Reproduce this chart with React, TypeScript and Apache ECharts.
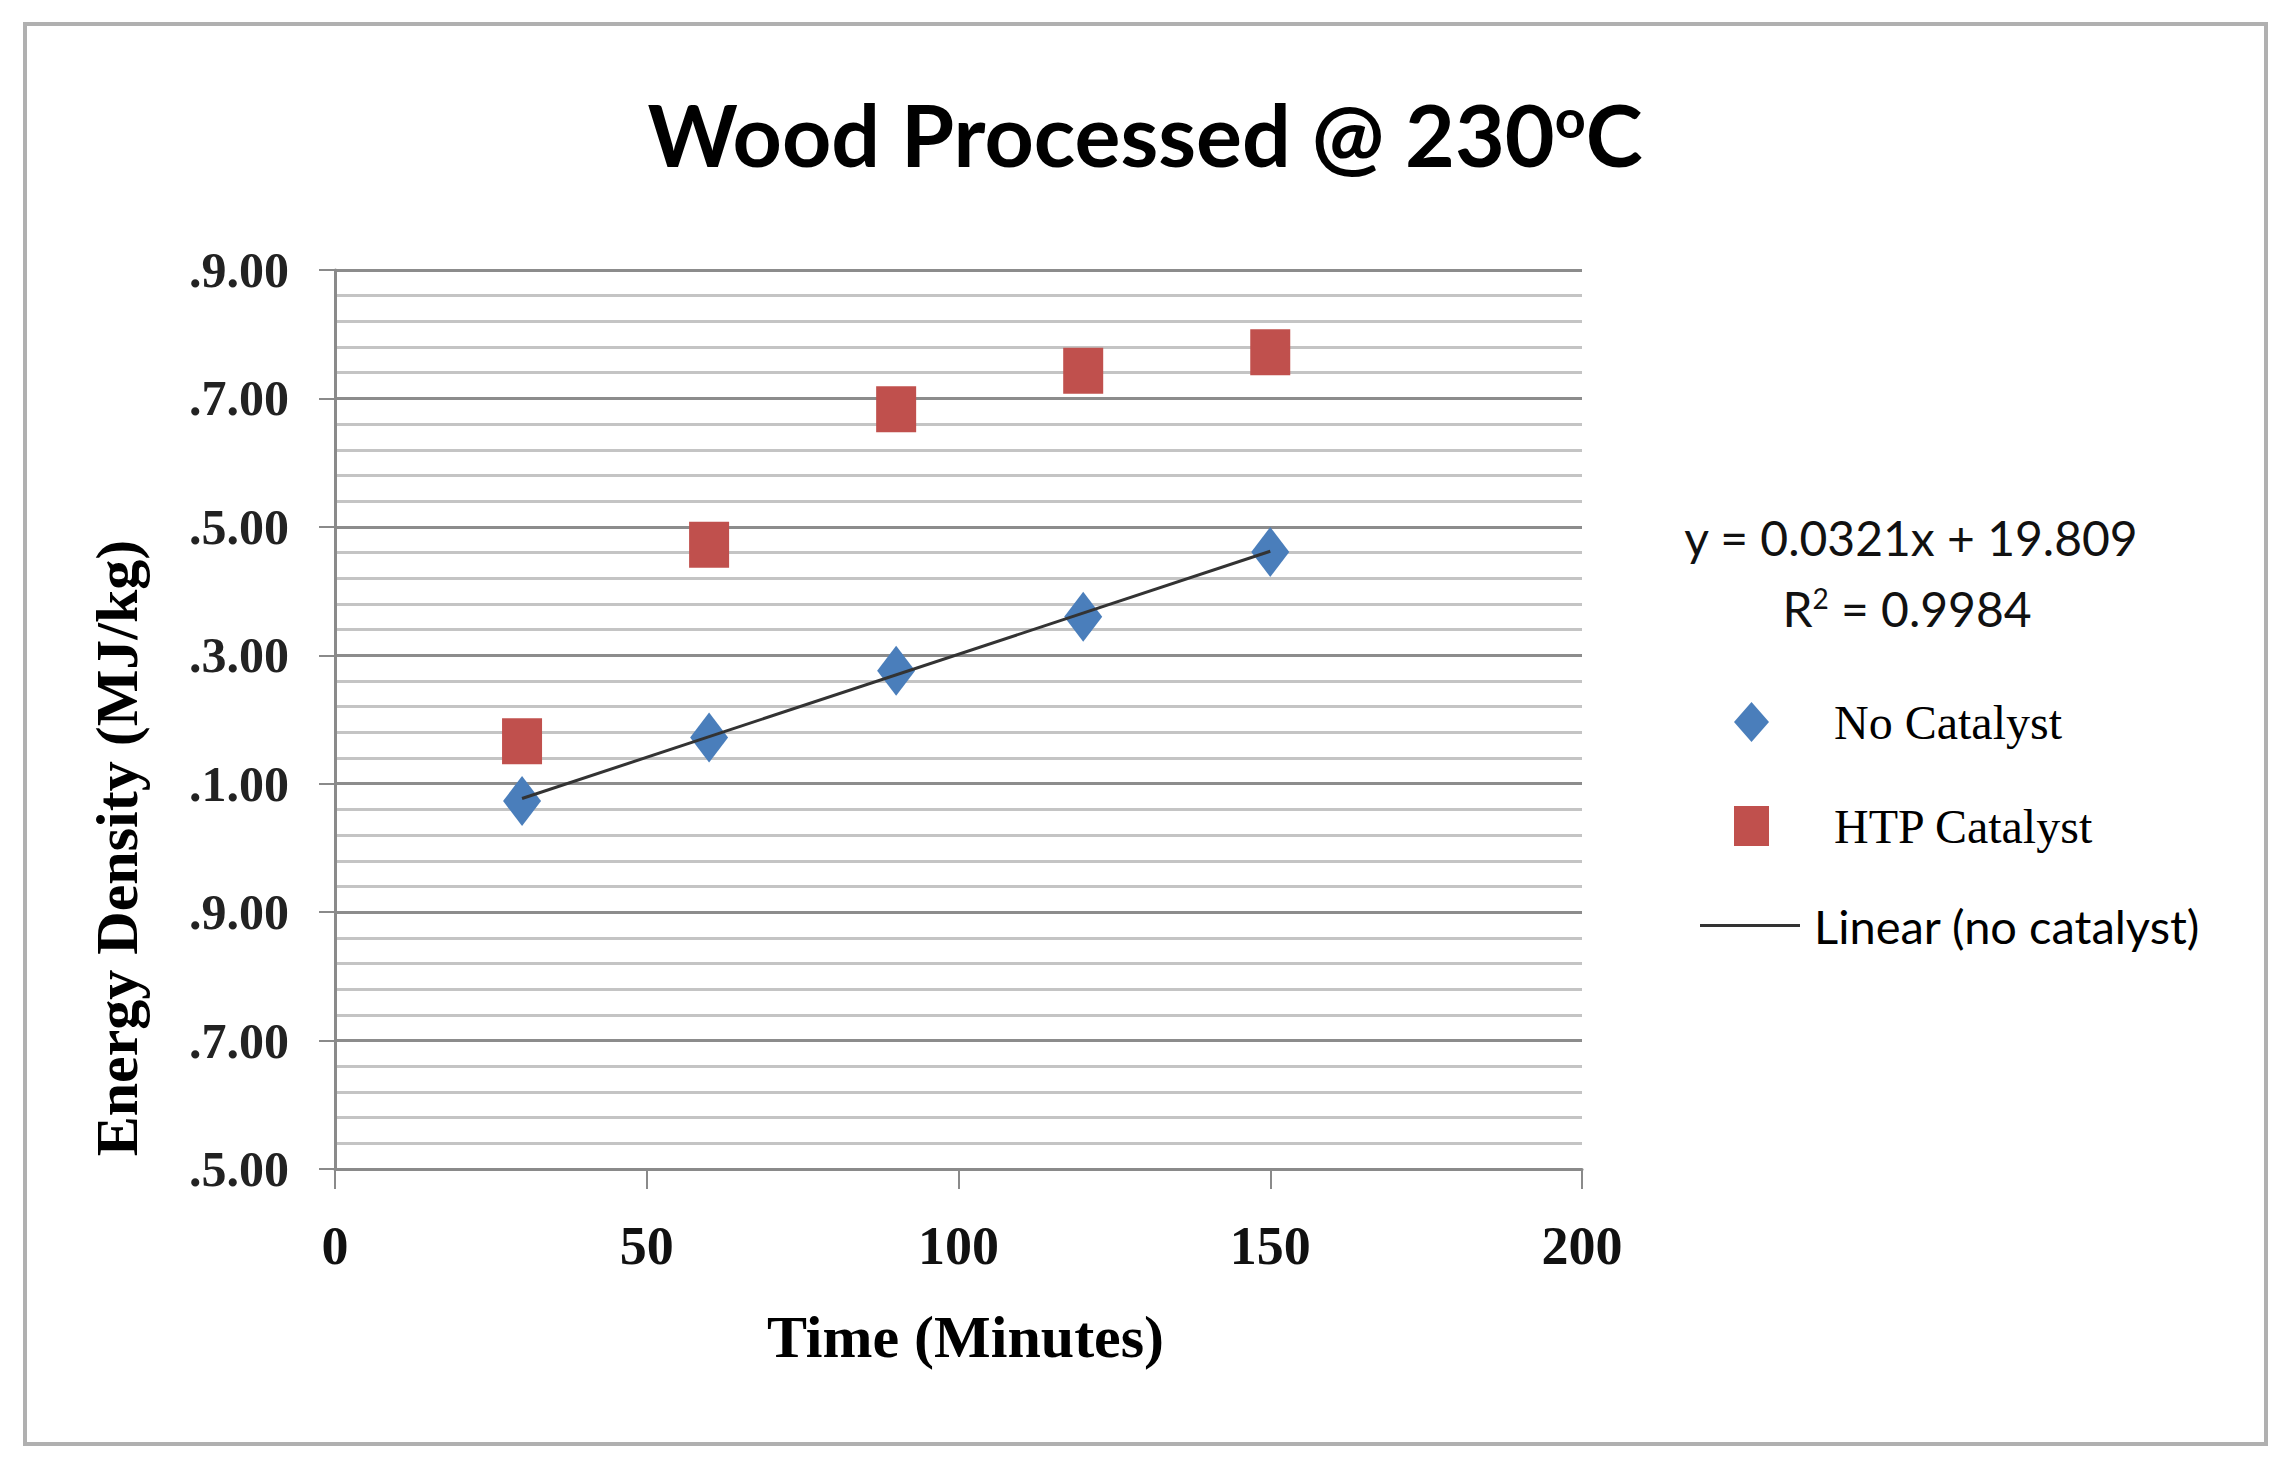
import * as echarts from "echarts";
import React, { useEffect, useRef } from "react";

// minutes
const times = [30, 60, 90, 120, 150];
// energy density, MJ/kg
const noCatalyst = [20.73, 21.72, 22.76, 23.6, 24.61];
const htpCatalyst = [21.66, 24.72, 26.83, 27.43, 27.72];
// trend line end points (x = 30 and x = 150)
const trendTimes = [30, 150];
const trendValues = [20.77, 24.62];

const xTicks = [0, 50, 100, 150, 200];
// the left digit of each y label is cut off in the original
const yTickLabels: Record<number, string> = {
  15: ".5.00",
  17: ".7.00",
  19: ".9.00",
  21: ".1.00",
  23: ".3.00",
  25: ".5.00",
  27: ".7.00",
  29: ".9.00",
};

const trendEquation = "y = 0.0321x + 19.809";
const trendR2 = "R{sup|2} = 0.9984";

const serif = "'Liberation Serif', 'Times New Roman', serif";
const sans = "Lato, 'Open Sans', sans-serif";

const App: React.FC = () => {
  const chartRef = useRef<HTMLDivElement | null>(null);

  useEffect(() => {
    document.body.style.margin = "0";
    if (!chartRef.current) return;
    const chart = echarts.init(chartRef.current, undefined, { renderer: "svg" });

    const option: echarts.EChartsOption = {
      animation: false,
      backgroundColor: "#fff",
      title: {
        text: "Wood Processed @ 230{sup|o}C",
        left: "center",
        top: 90,
        padding: 0,
        textStyle: {
          fontFamily: sans,
          fontWeight: "bold",
          fontSize: 86,
          color: "#000",
          rich: {
            sup: {
              fontFamily: sans,
              fontWeight: "bold",
              fontSize: 54,
              color: "#000",
              verticalAlign: "top",
            },
          },
        },
      },
      grid: {
        left: 335,
        right: 708,
        top: 270,
        bottom: 298,
      },
      xAxis: {
        type: "value",
        min: 0,
        max: 200,
        interval: 50,
        name: "Time (Minutes)",
        nameLocation: "middle",
        nameGap: 138,
        nameTextStyle: {
          fontFamily: serif,
          fontWeight: "bold",
          fontSize: 60,
          color: "#000",
          padding: [0, 0, 0, 14],
        },
        axisLine: { show: true, lineStyle: { color: "#8a8a8a", width: 3 } },
        axisTick: { show: true, length: 20, lineStyle: { color: "#8a8a8a", width: 2 } },
        axisLabel: {
          margin: 50,
          fontFamily: serif,
          fontWeight: "bold",
          fontSize: 54,
          color: "#111",
          formatter: (v: number) => (xTicks.includes(v) ? String(v) : ""),
        },
        splitLine: { show: false },
      },
      yAxis: {
        type: "value",
        min: 15,
        max: 29,
        interval: 2,
        axisLine: { show: true, lineStyle: { color: "#8a8a8a", width: 3 } },
        axisTick: { show: true, length: 16, lineStyle: { color: "#8a8a8a", width: 2 } },
        axisLabel: {
          margin: 46,
          fontFamily: serif,
          fontWeight: "bold",
          fontSize: 50,
          color: "#222",
          formatter: (v: number) => yTickLabels[v] ?? "",
        },
        splitLine: { show: true, lineStyle: { color: "#8c8c8c", width: 3 } },
        minorTick: { show: false, splitNumber: 5 },
        minorSplitLine: { show: true, lineStyle: { color: "#c4c4c4", width: 3 } },
      },
      legend: [
        {
          data: [{ name: "No Catalyst", icon: "diamond" }],
          left: 1734,
          top: 698,
          padding: 0,
          itemWidth: 35,
          itemHeight: 40,
          textStyle: {
            fontFamily: serif,
            fontSize: 48,
            color: "#000",
            padding: [0, 0, 0, 60],
          },
        },
        {
          data: [{ name: "HTP Catalyst", icon: "rect" }],
          left: 1734,
          top: 802,
          padding: 0,
          itemWidth: 35,
          itemHeight: 40,
          textStyle: {
            fontFamily: serif,
            fontSize: 48,
            color: "#000",
            padding: [0, 0, 0, 60],
          },
        },
        {
          data: [{ name: "Linear (no catalyst)", icon: "rect" }],
          left: 1700,
          top: 902,
          padding: 0,
          itemWidth: 100,
          itemHeight: 3,
          textStyle: {
            fontFamily: sans,
            fontSize: 47,
            color: "#000",
            padding: [0, 0, 0, 9],
          },
        },
      ],
      graphic: [
        {
          type: "rect",
          shape: { x: 25, y: 24, width: 2241, height: 1420 },
          style: { fill: "none", stroke: "#b0b0b0", lineWidth: 4 },
          silent: true,
        },
        {
          type: "text",
          x: 117,
          y: 848,
          rotation: Math.PI / 2,
          style: {
            text: "Energy Density (MJ/kg)",
            fontFamily: serif,
            fontWeight: "bold",
            fontSize: 60,
            fill: "#000",
            align: "center",
            verticalAlign: "middle",
          },
        },
        {
          type: "text",
          x: 1911,
          y: 537,
          style: {
            text: trendEquation,
            fontFamily: sans,
            fontSize: 48,
            fill: "#111",
            align: "center",
            verticalAlign: "middle",
          },
        },
        {
          type: "text",
          x: 1907,
          y: 608,
          style: {
            text: trendR2,
            fontFamily: sans,
            fontSize: 48,
            fill: "#111",
            align: "center",
            verticalAlign: "middle",
            rich: {
              sup: { fontFamily: sans, fontSize: 28, fill: "#111", verticalAlign: "top" },
            },
          },
        },
      ],
      series: [
        {
          name: "No Catalyst",
          type: "scatter",
          symbol: "diamond",
          symbolSize: [38, 50],
          itemStyle: { color: "#4a7ebb", opacity: 1 },
          data: times.map((t, i) => [t, noCatalyst[i]]),
          z: 3,
        },
        {
          name: "HTP Catalyst",
          type: "scatter",
          symbol: "rect",
          symbolSize: [40, 46],
          itemStyle: { color: "#c0504d", opacity: 1 },
          data: times.map((t, i) => [t, htpCatalyst[i]]),
          z: 3,
        },
        {
          name: "Linear (no catalyst)",
          type: "line",
          symbol: "none",
          lineStyle: { color: "#333", width: 3 },
          itemStyle: { color: "#333" },
          data: trendTimes.map((t, i) => [t, trendValues[i]]),
          z: 4,
        },
      ],
    };

    chart.setOption(option);
    return () => {
      chart.dispose();
    };
  }, []);

  return <div ref={chartRef} style={{ width: "2290px", height: "1467px" }} />;
};

export default App;
